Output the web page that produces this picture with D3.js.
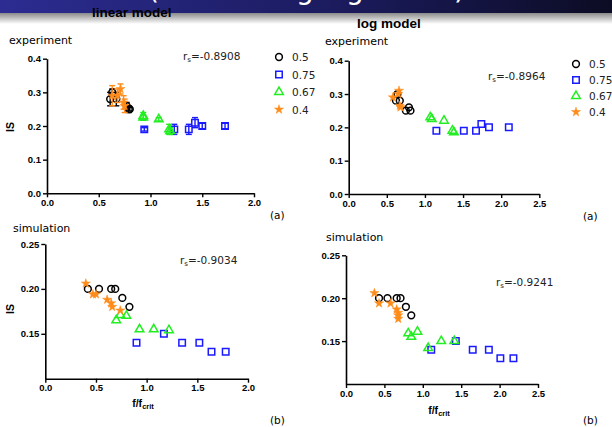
<!DOCTYPE html>
<html><head><meta charset="utf-8">
<script src="https://cdn.jsdelivr.net/npm/d3@7"></script>
<style>
html,body{margin:0;padding:0;background:#fff;}
svg{display:block;}
.tick text{font-family:"Liberation Sans",Arial,sans-serif;font-weight:bold;font-size:9.5px;fill:#000;}
</style></head><body>
<svg id="c" width="612" height="427"></svg>
<script>
// ---------- data ----------
const seriesNames = ["0.5", "0.75", "0.67", "0.4"];
const xTicksLin = [0, 0.5, 1.0, 1.5, 2.0];
const xTicksLog = [0, 0.5, 1.0, 1.5, 2.0, 2.5];
const yTicksExp = [0, 0.1, 0.2, 0.3, 0.4];
const yTicksSim = [0.15, 0.20, 0.25];
const rsValues = ["-0.8908", "-0.8964", "-0.9034", "-0.9241"];

// linear model, experiment (with error bars)
const linExp05x = [0.61, 0.63, 0.67, 0.77, 0.79, 0.80];
const linExp05y = [0.28, 0.30, 0.28, 0.26, 0.25, 0.25];
const linExp05e = [0.02, 0.01, 0.02, 0.01, 0.01, 0.005];
const linExp075x = [0.94, 1.23, 1.37, 1.43, 1.50, 1.72];
const linExp075y = [0.19, 0.19, 0.19, 0.21, 0.20, 0.20];
const linExp075e = [0.005, 0.015, 0.015, 0.015, 0.008, 0.008];
const linExp067x = [0.93, 0.93, 1.08, 1.18, 1.19];
const linExp067y = [0.23, 0.225, 0.22, 0.19, 0.185];
const linExp067e = [0.01, 0.008, 0.005, 0.015, 0.01];
const linExp04x = [0.63, 0.68, 0.71, 0.74, 0.75];
const linExp04y = [0.29, 0.29, 0.31, 0.27, 0.26];
const linExp04e = [0.03, 0.02, 0.015, 0.02, 0.02];

// log model, experiment
const logExp05x = [0.62, 0.64, 0.67, 0.75, 0.79, 0.81];
const logExp05y = [0.28, 0.30, 0.28, 0.25, 0.26, 0.25];
const logExp075x = [1.15, 1.51, 1.67, 1.74, 1.84, 2.10];
const logExp075y = [0.19, 0.19, 0.19, 0.21, 0.20, 0.20];
const logExp067x = [1.07, 1.09, 1.25, 1.36, 1.38];
const logExp067y = [0.23, 0.225, 0.22, 0.19, 0.185];
const logExp04x = [0.58, 0.66, 0.67, 0.68, 0.65];
const logExp04y = [0.29, 0.31, 0.265, 0.26, 0.30];

// linear model, simulation
const linSim05x = [0.42, 0.53, 0.65, 0.69, 0.76, 0.83];
const linSim05y = [0.20, 0.20, 0.20, 0.20, 0.19, 0.18];
const linSim075x = [0.90, 1.17, 1.35, 1.52, 1.64, 1.78];
const linSim075y = [0.14, 0.15, 0.14, 0.14, 0.13, 0.13];
const linSim067x = [0.70, 0.74, 0.80, 0.93, 1.07, 1.22];
const linSim067y = [0.165, 0.171, 0.17, 0.155, 0.155, 0.154];
const linSim04x = [0.40, 0.47, 0.50, 0.61, 0.65, 0.66, 0.74];
const linSim04y = [0.206, 0.194, 0.194, 0.188, 0.184, 0.18, 0.176];

// log model, simulation
const logSim05x = [0.43, 0.54, 0.66, 0.71, 0.78, 0.85];
const logSim05y = [0.20, 0.20, 0.20, 0.20, 0.19, 0.18];
const logSim075x = [1.11, 1.43, 1.65, 1.86, 2.01, 2.18];
const logSim075y = [0.14, 0.15, 0.14, 0.14, 0.13, 0.13];
const logSim067x = [0.81, 0.85, 0.93, 1.07, 1.24, 1.41];
const logSim067y = [0.159, 0.155, 0.161, 0.142, 0.15, 0.15];
const logSim04x = [0.37, 0.43, 0.58, 0.66, 0.68, 0.68, 0.68];
const logSim04y = [0.206, 0.194, 0.194, 0.187, 0.183, 0.18, 0.176];

// ---------- styles ----------
const colors = ["#000000", "#1a1aff", "#22ee22", "#ff8c1a"];
const symbols = [d3.symbolCircle, d3.symbolSquare, d3.symbolTriangle, d3.symbolStar];
const symSizes = [36, 42, 32, 26];
const filled = [false, false, false, true];

const svg = d3.select("#c");
const defs = svg.append("defs");
const g1 = defs.append("linearGradient").attr("id", "ban").attr("x1", 0).attr("x2", 1).attr("y1", 0).attr("y2", 0);
g1.append("stop").attr("offset", "0%").attr("stop-color", "#2c2c92");
g1.append("stop").attr("offset", "55%").attr("stop-color", "#1b1b5e");
g1.append("stop").attr("offset", "100%").attr("stop-color", "#0c0c24");
const g2 = defs.append("linearGradient").attr("id", "shad").attr("x1", 0).attr("x2", 0).attr("y1", 0).attr("y2", 1);
g2.append("stop").attr("offset", "0%").attr("stop-color", "#8a8a8a");
g2.append("stop").attr("offset", "100%").attr("stop-color", "#ffffff");
defs.append("clipPath").attr("id", "banclip").append("rect").attr("x", 0).attr("y", 0).attr("width", 612).attr("height", 13);

svg.append("rect").attr("x", 0).attr("y", 0).attr("width", 612).attr("height", 13).attr("fill", "url(#ban)");
svg.append("rect").attr("x", 0).attr("y", 13).attr("width", 612).attr("height", 11).attr("fill", "url(#shad)");
const bt = svg.append("g").attr("clip-path", "url(#banclip)");
[["(", 148], ["g", 296], ["g", 346], [")", 454]].forEach(([t, x]) => {
  bt.append("text").attr("x", x).attr("y", -1).attr("fill", "#fff")
    .style("font-family", "DejaVu Sans, sans-serif").style("font-size", "28px").text(t);
});
svg.append("text").attr("x", 92).attr("y", 17).style("font-family", "Liberation Sans, Arial, sans-serif")
  .style("font-weight", "bold").style("font-size", "13.5px").attr("fill", "#000").text("linear  model");
svg.append("text").attr("x", 357).attr("y", 28).style("font-family", "Liberation Sans, Arial, sans-serif")
  .style("font-weight", "bold").style("font-size", "13.5px").attr("fill", "#000").text("log  model");

function panel(opt) {
  const x = d3.scaleLinear().domain(opt.xd).range(opt.xr);
  const y = d3.scaleLinear().domain(opt.yd).range(opt.yr);
  const g = svg.append("g");
  const xa = g.append("g").attr("transform", `translate(0,${opt.yr[0]})`)
    .call(d3.axisBottom(x).tickValues(opt.xt).tickFormat(d3.format(".1f")).tickSize(4).tickPadding(2).tickSizeOuter(0));
  const ya = g.append("g").attr("transform", `translate(${opt.xr[0]},0)`)
    .call(d3.axisLeft(y).tickValues(opt.yt).tickFormat(d3.format(opt.yf)).tickSize(4).tickPadding(2).tickSizeOuter(0));
  [xa, ya].forEach(a => {
    a.select(".domain").attr("stroke", "#000").attr("stroke-width", 1.6);
    a.selectAll(".tick line").attr("stroke", "#000").attr("stroke-width", 1.4);
  });
  opt.series.forEach((s, i) => {
    const pts = s.x.map((v, k) => ({x: v, y: s.y[k], e: s.e ? s.e[k] : 0}));
    if (s.e) {
      const eg = g.append("g").attr("stroke", colors[i]).attr("stroke-width", 1.4);
      pts.forEach(p => {
        if (!p.e) return;
        const px = x(p.x);
        eg.append("line").attr("x1", px).attr("x2", px).attr("y1", y(p.y - p.e)).attr("y2", y(p.y + p.e));
        eg.append("line").attr("x1", px - 3).attr("x2", px + 3).attr("y1", y(p.y - p.e)).attr("y2", y(p.y - p.e));
        eg.append("line").attr("x1", px - 3).attr("x2", px + 3).attr("y1", y(p.y + p.e)).attr("y2", y(p.y + p.e));
      });
    }
    g.append("g").selectAll("path").data(pts).join("path")
      .attr("transform", p => `translate(${x(p.x)},${y(p.y)})`)
      .attr("d", d3.symbol().type(symbols[i]).size(symSizes[i]))
      .attr("fill", filled[i] ? colors[i] : "none")
      .attr("stroke", colors[i]).attr("stroke-width", filled[i] ? 0.5 : 1.5);
  });
  svg.append("text").attr("x", opt.title[1]).attr("y", opt.title[2])
    .style("font-family", "DejaVu Sans, Verdana, sans-serif").style("font-size", "11px").text(opt.title[0]);
  const rt = svg.append("text").attr("x", opt.rs[1]).attr("y", opt.rs[2])
    .style("font-family", "DejaVu Sans, Verdana, sans-serif").style("font-size", "10.5px").attr("fill", "#222");
  rt.append("tspan").text("r");
  rt.append("tspan").attr("dy", 2).style("font-size", "7px").text("s");
  rt.append("tspan").attr("dy", -2).text("=" + opt.rs[0]);
  svg.append("text").attr("x", opt.letter[1]).attr("y", opt.letter[2])
    .style("font-family", "DejaVu Sans, Verdana, sans-serif").style("font-size", "10.5px").text(opt.letter[0]);
  if (opt.ylab) {
    svg.append("text").attr("transform", `translate(${opt.ylab[0]},${opt.ylab[1]}) rotate(-90)`)
      .attr("text-anchor", "middle").style("font-family", "Liberation Sans, Arial, sans-serif")
      .style("font-weight", "bold").style("font-size", "10.5px").text("IS");
  }
  if (opt.xlab) {
    const t = svg.append("text").attr("x", opt.xlab[0]).attr("y", opt.xlab[1]).attr("text-anchor", "middle")
      .style("font-family", "Liberation Sans, Arial, sans-serif").style("font-weight", "bold").style("font-size", "10.5px");
    t.append("tspan").text("f/f");
    t.append("tspan").attr("dy", 2).style("font-size", "7.5px").text("crit");
  }
  if (opt.legend) {
    const [lx, ly, dy] = opt.legend;
    seriesNames.forEach((n, i) => {
      svg.append("path").attr("transform", `translate(${lx},${ly + i * dy})`)
        .attr("d", d3.symbol().type(symbols[i]).size(symSizes[i]))
        .attr("fill", filled[i] ? colors[i] : "none")
        .attr("stroke", colors[i]).attr("stroke-width", filled[i] ? 0.5 : 1.5);
      svg.append("text").attr("x", lx + 13).attr("y", ly + i * dy + 4)
        .style("font-family", "DejaVu Sans, Verdana, sans-serif").style("font-size", "10.5px").attr("fill", "#222").text(n);
    });
  }
}

panel({
  xd: [0, 2], xr: [47, 254], yd: [0, 0.4], yr: [193.3, 58.7], xt: xTicksLin, yt: yTicksExp, yf: ".1f",
  series: [
    {x: linExp05x, y: linExp05y, e: linExp05e},
    {x: linExp075x, y: linExp075y, e: linExp075e},
    {x: linExp067x, y: linExp067y, e: linExp067e},
    {x: linExp04x, y: linExp04y, e: linExp04e}],
  title: ["experiment", 9, 44], rs: [rsValues[0], 183, 60], letter: ["(a)", 270, 219],
  ylab: [14, 127], legend: [279, 57, 17.5]
});
panel({
  xd: [0, 2.5], xr: [348.7, 539.3], yd: [0, 0.4], yr: [194, 60.7], xt: xTicksLog, yt: yTicksExp, yf: ".1f",
  series: [
    {x: logExp05x, y: logExp05y},
    {x: logExp075x, y: logExp075y},
    {x: logExp067x, y: logExp067y},
    {x: logExp04x, y: logExp04y}],
  title: ["experiment", 325, 45], rs: [rsValues[1], 488, 80], letter: ["(a)", 583, 220],
  legend: [576, 64, 16]
});
panel({
  xd: [0, 2], xr: [45.3, 248], yd: [0.10, 0.25], yr: [378.7, 244], xt: xTicksLin, yt: yTicksSim, yf: ".2f",
  series: [
    {x: linSim05x, y: linSim05y},
    {x: linSim075x, y: linSim075y},
    {x: linSim067x, y: linSim067y},
    {x: linSim04x, y: linSim04y}],
  title: ["simulation", 13, 232], rs: [rsValues[2], 180, 264], letter: ["(b)", 270, 424],
  ylab: [14, 309], xlab: [143, 407]
});
panel({
  xd: [0, 2.5], xr: [346, 538], yd: [0.10, 0.25], yr: [384, 255.3], xt: xTicksLog, yt: yTicksSim, yf: ".2f",
  series: [
    {x: logSim05x, y: logSim05y},
    {x: logSim075x, y: logSim075y},
    {x: logSim067x, y: logSim067y},
    {x: logSim04x, y: logSim04y}],
  title: ["simulation", 326, 241], rs: [rsValues[3], 496, 286], letter: ["(b)", 583, 424],
  xlab: [439, 414]
});
</script>
</body></html>
